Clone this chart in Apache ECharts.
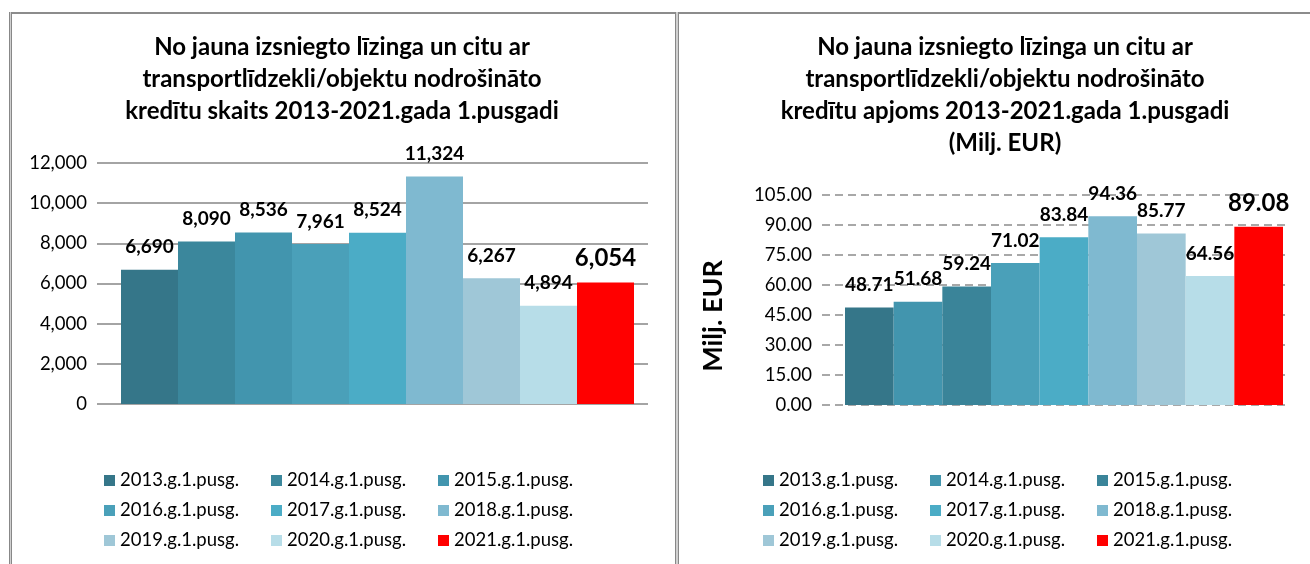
<!DOCTYPE html>
<html>
<head>
<meta charset="utf-8">
<script src="https://cdn.jsdelivr.net/npm/echarts@6/dist/echarts.min.js"></script>
<style>
  body { margin: 0; background: #fff; }
  #wrap { position: relative; width: 1310px; height: 564px; overflow: hidden; background: #fff; }
  #left { position: absolute; left: 0; top: 0; width: 677px; height: 564px; }
  #right { position: absolute; left: 677px; top: 0; width: 633px; height: 564px; }
  .line { position: absolute; background: #8c8c8c; z-index: 10; }
  .dbl { position: absolute; z-index: 10; background: #d0d0d0; border-left: 1px solid #888; border-right: 1px solid #888; box-sizing: border-box; }
</style>
</head>
<body>
<div id="wrap">
  <div id="left"></div>
  <div id="right"></div>
  <div class="line" style="left:9px; top:12px; width:1301px; height:2px;"></div>
  <div class="dbl" style="left:9px; top:12px; width:3px; height:552px;"></div>
  <div class="dbl" style="left:675px; top:12px; width:4px; height:552px;"></div>
</div>
<script>
const FONT = 'Lato, "Liberation Sans", sans-serif';

const years = ['2013.g.1.pusg.', '2014.g.1.pusg.', '2015.g.1.pusg.', '2016.g.1.pusg.', '2017.g.1.pusg.',
  '2018.g.1.pusg.', '2019.g.1.pusg.', '2020.g.1.pusg.', '2021.g.1.pusg.'];

// kredītu skaits
const countValues = [6690, 8090, 8536, 7961, 8524, 11324, 6267, 4894, 6054];
// kredītu apjoms, milj. EUR
const volumeValues = [48.71, 51.68, 59.24, 71.02, 83.84, 94.36, 85.77, 64.56, 89.08];

const countColors = ['#357689', '#3b879c', '#4295ae', '#4aa0b9', '#4bacc6', '#7fb9d0', '#9fc7d7', '#b7dde8', '#ff0000'];
const volumeColors = ['#357689', '#4295ae', '#3a8499', '#4aa0b9', '#4bacc6', '#7fb9d0', '#9fc7d7', '#b7dde8', '#ff0000'];

const leftTitle = 'No jauna izsniegto līzinga un citu ar\ntransportlīdzekli/objektu nodrošināto\nkredītu skaits 2013-2021.gada 1.pusgadi';
const rightTitle = 'No jauna izsniegto līzinga un citu ar\ntransportlīdzekli/objektu nodrošināto\nkredītu apjoms 2013-2021.gada 1.pusgadi\n(Milj. EUR)';

function makeSeries(values, colors, fmt) {
  return years.map((name, i) => ({
    name: name,
    type: 'bar',
    xAxisIndex: 1,
    yAxisIndex: 1,
    data: [values[i]],
    barGap: '0%',
    barCategoryGap: '0%',
    itemStyle: { color: colors[i] },
    label: {
      show: true,
      position: 'top',
      distance: i === 8 ? 12 : 13,
      color: '#000',
      fontWeight: 'bold',
      fontSize: i === 8 ? 24 : 19,
      fontFamily: FONT,
      formatter: (p) => fmt(p.value),
    },
  }));
}

// three legend columns, read row by row like the original
function makeLegends(left) {
  const legends = [];
  for (let c = 0; c < 3; c++) {
    legends.push({
      data: [years[c], years[c + 3], years[c + 6]],
      orient: 'vertical',
      left: left + c * 167,
      top: 471,
      padding: 0,
      icon: 'rect',
      itemWidth: 11,
      itemHeight: 11,
      itemGap: 11,
      textStyle: { fontSize: 18.5, color: '#000', fontFamily: FONT },
    });
  }
  return legends;
}

function makeAxes(min, max, interval, fmt, splitStyle) {
  return {
    xAxis: [
      { type: 'category', data: [''], axisLine: { show: false }, axisTick: { show: false }, axisLabel: { show: false } },
      { type: 'category', gridIndex: 1, data: [''], show: false },
    ],
    yAxis: [
      {
        type: 'value', min: min, max: max, interval: interval,
        axisLine: { show: false },
        axisTick: { show: false },
        axisLabel: { fontSize: 18.5, color: '#000', margin: 10, formatter: fmt },
        splitLine: { lineStyle: splitStyle },
      },
      { type: 'value', gridIndex: 1, min: min, max: max, interval: interval, show: false, splitLine: { show: false } },
    ],
  };
}

function makeTitle(text, center) {
  return {
    text: text,
    left: center,
    top: 31,
    padding: 0,
    textAlign: 'center',
    textStyle: { fontSize: 24, fontWeight: 'bold', lineHeight: 32, color: '#000', fontFamily: FONT },
  };
}

let leftChart = echarts.init(document.getElementById('left'));
leftChart.setOption(Object.assign({
  animation: false,
  textStyle: { fontFamily: FONT },
  title: makeTitle(leftTitle, 342),
  legend: makeLegends(104),
  grid: [
    { left: 97, right: 29, top: 163, bottom: 160 },
    { left: 121, right: 43, top: 163, bottom: 160 },
  ],
  series: makeSeries(countValues, countColors, (v) => v.toLocaleString('en-US')),
}, makeAxes(0, 12000, 2000, (v) => v.toLocaleString('en-US'), { color: '#868686', width: 1.5 })));

let rightChart = echarts.init(document.getElementById('right'));
rightChart.setOption(Object.assign({
  animation: false,
  textStyle: { fontFamily: FONT },
  title: makeTitle(rightTitle, 328),
  graphic: [{
    type: 'text',
    x: 36,
    y: 316,
    rotation: Math.PI / 2,
    style: { text: 'Milj. EUR', textAlign: 'center', textVerticalAlign: 'middle', fontSize: 27, fontWeight: 'bold', fill: '#000', fontFamily: FONT },
  }],
  legend: makeLegends(86),
  grid: [
    { left: 145, right: 20, top: 195, bottom: 159 },
    { left: 168, right: 27, top: 195, bottom: 159 },
  ],
  series: makeSeries(volumeValues, volumeColors, (v) => v.toFixed(2)),
}, makeAxes(0, 105, 15, (v) => v.toFixed(2), { color: '#8c8c8c', width: 1.5, type: [8, 5] })));
</script>
</body>
</html>
